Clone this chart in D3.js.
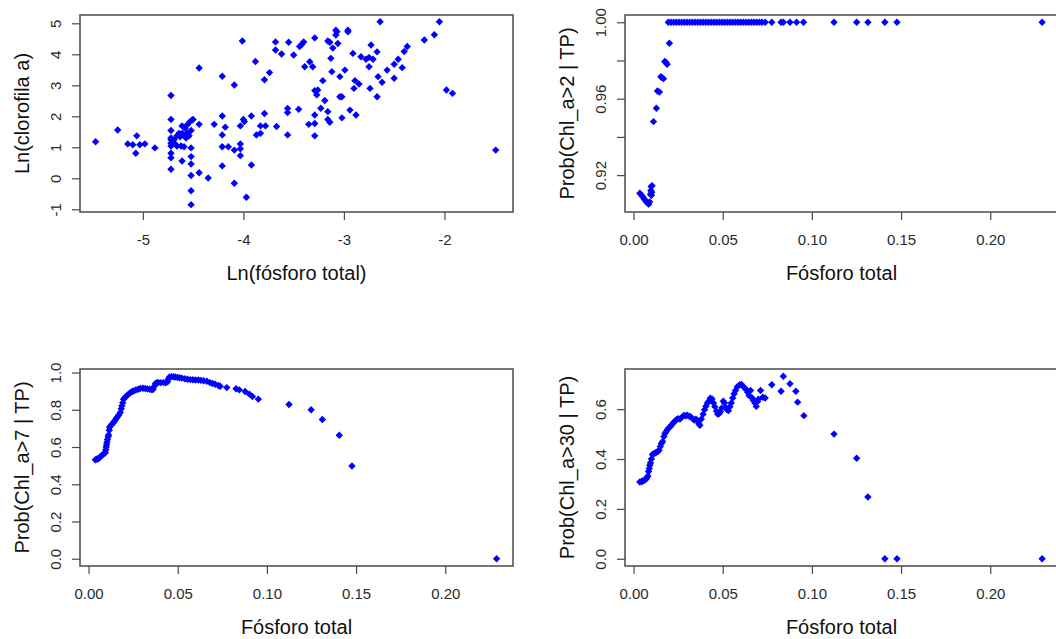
<!DOCTYPE html>
<html>
<head>
<meta charset="utf-8">
<script src="https://cdn.jsdelivr.net/npm/d3@7"></script>
<style>
  html, body { margin: 0; padding: 0; background: #fff; overflow: hidden; }
  svg { display: block; font-family: "Liberation Sans", Arial, sans-serif; }
</style>
</head>
<body>
<svg id="chart" width="1056" height="639"></svg>
<script>
// ---------- DATA ----------
// Panel 1: Ln(fósforo total) vs Ln(clorofila a)
const lnTP = [
  -5.47,-5.25,-5.15,-5.10,-5.06,-5.07,-5.03,-4.98,-4.88,
  -4.72,-4.72,-4.72,-4.72,-4.72,-4.72,-4.72,-4.72,-4.72,-4.72,
  -4.69,-4.68,-4.66,-4.63,-4.61,-4.61,-4.59,-4.58,-4.56,-4.56,-4.54,-4.53,-4.51,-4.50,-4.61,-4.62,-4.66,-4.64,-4.60,-4.57,
  -4.52,-4.52,-4.52,-4.52,-4.52,-4.52,-4.52,
  -4.44,-4.35,-4.44,-4.44,-4.29,-4.21,-4.21,-4.21,-4.21,-4.21,-4.18,-4.15,-4.09,-4.09,-4.09,-4.03,-4.03,-4.03,-4.03,-4.00,-3.97,-3.99,-3.92,-3.92,-4.01,
  -3.88,-3.87,-3.83,-3.83,-3.78,-3.79,-3.79,-3.74,-3.68,-3.68,-3.62,-3.67,-3.56,-3.56,-3.56,-3.55,-3.50,-3.45,-3.44,-3.42,-3.40,-3.39,-3.35,-3.34,-3.31,
  -3.29,-3.29,-3.27,-3.29,-3.29,-3.29,-3.26,-3.23,-3.21,-3.19,-3.16,-3.14,-3.13,-3.12,-3.11,-3.16,-3.16,-3.14,
  -3.08,-3.08,-3.07,-3.06,-3.04,-3.04,-3.02,-3.02,-2.99,-2.96,-2.96,-2.94,-2.91,-2.90,-2.89,-2.88,-2.85,-2.83,
  -2.78,-2.75,-2.75,-2.73,-2.74,-2.71,-2.67,-2.67,-2.66,-2.64,-2.62,-2.57,-2.50,-2.50,-2.46,-2.42,-2.40,-2.37,
  -2.20,-2.10,-2.05,-1.98,-1.92,-1.49
];
const lnChl = [
  1.18,1.56,1.11,1.08,1.37,0.81,1.08,1.11,0.98,
  2.67,1.90,1.54,1.30,1.13,0.81,0.66,0.29,1.24,1.04,
  1.24,1.11,1.37,1.34,1.45,1.69,1.02,1.61,1.72,1.45,1.37,1.83,1.88,1.90,0.56,1.04,1.04,1.45,1.40,1.30,
  0.98,0.70,0.46,0.09,-0.40,-0.85,1.54,
  0.18,0.01,3.56,1.74,1.74,3.29,2.01,1.40,1.02,0.40,1.65,1.02,3.01,0.91,-0.16,1.11,0.95,0.73,1.69,1.90,-0.61,1.83,2.01,0.43,4.43,
  3.77,1.40,1.45,1.69,1.69,2.09,3.18,3.41,4.40,4.14,4.01,1.67,1.40,2.25,2.12,4.39,3.98,2.23,4.25,4.32,4.40,3.60,1.74,3.76,3.60,
  4.53,2.83,2.69,2.04,1.77,1.37,2.85,2.26,3.15,2.51,4.43,4.39,3.87,3.44,4.20,2.15,1.90,1.81,
  4.78,4.62,4.73,4.35,3.28,2.63,2.63,1.95,3.49,4.78,4.73,2.20,4.03,2.90,3.15,2.04,3.04,3.92,
  3.84,3.90,3.60,4.30,2.90,3.84,2.63,4.08,3.28,5.05,3.10,3.49,3.23,3.68,3.84,3.57,4.09,4.25,
  4.46,4.63,5.05,2.85,2.74,0.91
];

// Panel 2: Prob(Chl_a>2 | TP)
const tpGt2 = [
  0.0035,0.0045,0.0052,0.0060,0.0068,0.0076,0.0085,0.0090,0.0095,0.0097,0.0099,0.0104,0.0102,0.0100,
  0.0112,0.0128,0.0134,0.0145,0.0153,0.0160,0.0168,0.0175,0.0182,0.0188,0.0201,
  0.0195,0.0210,0.0225,0.0240,0.0255,0.0270,0.0285,0.0300,0.0315,0.0330,0.0345,0.0360,0.0375,0.0390,0.0405,
  0.0420,0.0435,0.0450,0.0465,0.0480,0.0495,0.0510,0.0525,0.0540,0.0555,0.0570,0.0585,0.0600,0.0615,0.0630,
  0.0645,0.0660,0.0675,0.0690,0.0705,0.0720,0.0738,0.0775,0.0827,0.0840,0.0877,0.0914,0.0953,
  0.1124,0.1251,0.1314,0.1409,0.1477,0.2291
];
const probGt2 = [
  0.9105,0.9095,0.9085,0.9075,0.9065,0.9055,0.9048,0.9060,0.9100,0.9120,0.9140,0.9145,0.9110,0.9095,
  0.948,0.955,0.964,0.9635,0.9715,0.971,0.9705,0.9795,0.979,0.978,0.989,
  1,1,1,1,1,1,1,1,1,1,1,1,1,1,1,
  1,1,1,1,1,1,1,1,1,1,1,1,1,1,1,
  1,1,1,1,1,1,1,1,1,1,1,1,1,
  1,1,1,1,1,1
];

// Panel 3: Prob(Chl_a>7 | TP)
const tpGt7 = [
  0.0038,0.0045,0.0052,0.0058,0.0065,0.0072,0.0080,0.0088,0.0094,0.0097,0.0099,0.0101,0.0103,0.0106,0.0110,
  0.0112,0.0116,0.0118,0.0125,0.0132,0.0140,0.0148,0.0155,0.0162,0.0170,0.0178,0.0183,0.0187,0.0192,0.0196,
  0.0205,0.0215,0.0224,0.0235,0.0245,0.0252,0.0265,0.0278,0.0290,0.0305,0.0318,0.0330,0.0342,0.0355,0.0362,
  0.0368,0.0374,0.0383,0.0392,0.0405,0.0420,0.0432,0.0443,0.0448,0.0454,0.0465,0.0476,0.0486,0.0498,0.0510,
  0.0523,0.0540,0.0555,0.0570,0.0585,0.0600,0.0616,0.0630,0.0645,0.0663,0.0680,0.0695,0.0710,0.0728,0.0738,
  0.0775,0.0827,0.0845,0.0878,0.0902,0.0919,0.0952,0.1124,0.1248,0.1311,0.1406,0.1477,0.2288
];
const probGt7 = [
  0.532,0.535,0.536,0.540,0.547,0.553,0.560,0.566,0.569,0.585,0.600,0.612,0.626,0.640,0.655,
  0.665,0.690,0.706,0.715,0.724,0.732,0.743,0.753,0.763,0.772,0.786,0.805,0.821,0.838,0.857,
  0.866,0.876,0.884,0.893,0.898,0.901,0.906,0.910,0.914,0.916,0.914,0.912,0.910,0.907,0.910,
  0.925,0.940,0.946,0.946,0.946,0.946,0.945,0.950,0.965,0.976,0.978,0.977,0.976,0.974,0.972,
  0.970,0.967,0.964,0.962,0.961,0.960,0.960,0.958,0.956,0.953,0.946,0.941,0.937,0.930,0.926,
  0.919,0.913,0.907,0.898,0.884,0.871,0.857,0.828,0.800,0.748,0.663,0.498,0.000
];

// Panel 4: Prob(Chl_a>30 | TP)
const tpGt30 = [
  0.0035,0.0045,0.0052,0.0060,0.0069,0.0075,0.0080,0.0084,0.0088,0.0091,0.0095,0.0100,0.0106,0.0115,0.0125,
  0.0135,0.0143,0.0150,0.0156,0.0163,0.0170,0.0176,0.0183,0.0190,0.0198,0.0207,0.0214,0.0222,0.0230,0.0240,
  0.0250,0.0260,0.0270,0.0282,0.0292,0.0300,0.0310,0.0320,0.0330,0.0340,0.0350,0.0358,0.0366,0.0372,0.0380,
  0.0390,0.0398,0.0406,0.0414,0.0422,0.0430,0.0440,0.0448,0.0456,0.0465,0.0472,0.0480,0.0487,0.0495,0.0503,
  0.0510,0.0518,0.0525,0.0532,0.0540,0.0548,0.0556,0.0564,0.0571,0.0582,0.0595,0.0605,0.0619,0.0630,0.0640,
  0.0648,0.0656,0.0665,0.0672,0.0680,0.0688,0.0695,0.0700,0.0712,0.0725,0.0738,
  0.0775,0.0827,0.0840,0.0877,0.0910,0.0920,0.0955,0.1124,0.1251,0.1314,0.1409,0.1477,0.2291
];
const probGt30 = [
  0.308,0.310,0.312,0.315,0.319,0.325,0.332,0.350,0.362,0.375,0.385,0.400,0.418,0.422,0.425,
  0.430,0.435,0.450,0.462,0.470,0.490,0.502,0.510,0.518,0.525,0.530,0.537,0.545,0.550,0.558,
  0.562,0.560,0.567,0.575,0.573,0.576,0.572,0.570,0.562,0.556,0.560,0.555,0.541,0.535,0.560,
  0.580,0.598,0.612,0.625,0.632,0.644,0.641,0.625,0.610,0.592,0.580,0.582,0.590,0.605,0.632,
  0.625,0.605,0.598,0.594,0.610,0.625,0.645,0.662,0.675,0.690,0.698,0.699,0.688,0.680,0.668,
  0.655,0.675,0.645,0.635,0.625,0.611,0.630,0.640,0.675,0.648,0.645,
  0.698,0.672,0.732,0.702,0.672,0.628,0.574,0.500,0.403,0.248,0.000,0.000,0.000
];

// Tick values and labels
const xTicksLn = [-5, -4, -3, -2];
const yTicksLn = [-1, 0, 1, 2, 3, 4, 5];
const xTicksTP = [0, 0.05, 0.10, 0.15, 0.20];
const yTicksGt2 = [0.92, 0.94, 0.96, 0.98, 1.00];
const yLabelsGt2 = [0.92, 0.96, 1.00];
const yTicksGt7 = [0, 0.2, 0.4, 0.6, 0.8, 1.0];
const yTicksGt30 = [0, 0.2, 0.4, 0.6];

// ---------- LAYOUT ----------
const svg = d3.select("#chart");
const W = 433, H = 197;
const intFmt = d => String(d);   // plain hyphen-minus like R
const panels = [
  { left: 80,  top: 15,  xs: lnTP,  ys: lnChl,   xd: [-5.625, -1.318], yd: [-1.087, 5.268],
    xt: xTicksLn, xf: intFmt, yt: yTicksLn, yl: yTicksLn, yf: intFmt,
    xTitle: "Ln(fósforo total)", yTitle: "Ln(clorofila a)" },
  { left: 625, top: 15,  xs: tpGt2,  ys: probGt2,  xd: [-0.0048, 0.238], yd: [0.9007, 1.0038],
    xt: xTicksTP, xf: d3.format(".2f"), yt: yTicksGt2, yl: yLabelsGt2, yf: d3.format(".2f"),
    xTitle: "Fósforo total", yTitle: "Prob(Chl_a>2 | TP)" },
  { left: 80,  top: 369, xs: tpGt7,  ys: probGt7,  xd: [-0.0048, 0.238], yd: [-0.039, 1.019],
    xt: xTicksTP, xf: d3.format(".2f"), yt: yTicksGt7, yl: yTicksGt7, yf: d3.format(".1f"),
    xTitle: "Fósforo total", yTitle: "Prob(Chl_a>7 | TP)" },
  { left: 625, top: 369, xs: tpGt30, ys: probGt30, xd: [-0.0048, 0.238], yd: [-0.029, 0.761],
    xt: xTicksTP, xf: d3.format(".2f"), yt: yTicksGt30, yl: yTicksGt30, yf: d3.format(".1f"),
    xTitle: "Fósforo total", yTitle: "Prob(Chl_a>30 | TP)" }
];

const axisColor = "#4a4a4a";
const r = 3.7;
const diamond = `M0,${-r}L${r},0L0,${r}L${-r},0Z`;

panels.forEach(p => {
  const g = svg.append("g").attr("transform", `translate(${p.left},${p.top})`);
  const x = d3.scaleLinear().domain(p.xd).range([0, W]);
  const y = d3.scaleLinear().domain(p.yd).range([H, 0]);

  // x axis
  const xa = g.append("g").attr("transform", `translate(0,${H})`)
    .call(d3.axisBottom(x).tickValues(p.xt).tickFormat(p.xf).tickSize(8).tickSizeOuter(0).tickPadding(11));
  xa.select(".domain").remove();
  xa.selectAll("line").attr("stroke", axisColor).attr("stroke-width", 1.2);
  xa.selectAll("text").attr("font-size", 15).attr("fill", "#2a2a2a")
    .attr("y", 28).attr("dy", "0.35em")
    .style("font-family", "'Liberation Sans', Arial, sans-serif");

  // y axis
  const labelSet = new Set(p.yl.map(v => +v.toFixed(4)));
  const ya = g.append("g")
    .call(d3.axisLeft(y).tickValues(p.yt).tickFormat(d => labelSet.has(+d.toFixed(4)) ? p.yf(d) : "")
      .tickSize(8).tickSizeOuter(0));
  ya.select(".domain").remove();
  ya.selectAll("line").attr("stroke", axisColor).attr("stroke-width", 1.2);
  ya.selectAll("text").attr("font-size", 15).attr("fill", "#2a2a2a")
    .attr("x", null).attr("dy", "0.35em").attr("text-anchor", "middle")
    .attr("transform", "translate(-24,0) rotate(-90)")
    .style("font-family", "'Liberation Sans', Arial, sans-serif");

  // box
  g.append("rect").attr("x", 0).attr("y", 0).attr("width", W).attr("height", H)
    .attr("fill", "none").attr("stroke", axisColor).attr("stroke-width", 1.5);

  // points
  g.append("g").selectAll("path").data(p.xs.map((v, i) => [v, p.ys[i]])).join("path")
    .attr("d", diamond)
    .attr("transform", d => `translate(${x(d[0])},${y(d[1])})`)
    .attr("fill", "#0000ff");

  // titles
  g.append("text").attr("x", W / 2).attr("y", H + 61).attr("dy", "0.35em")
    .attr("text-anchor", "middle").attr("font-size", 20).attr("fill", "#111").text(p.xTitle);
  g.append("text").attr("transform", `translate(-58.5,${H / 2}) rotate(-90)`).attr("dy", "0.35em")
    .attr("text-anchor", "middle").attr("font-size", 20).attr("fill", "#111").text(p.yTitle);
});
</script>
</body>
</html>
